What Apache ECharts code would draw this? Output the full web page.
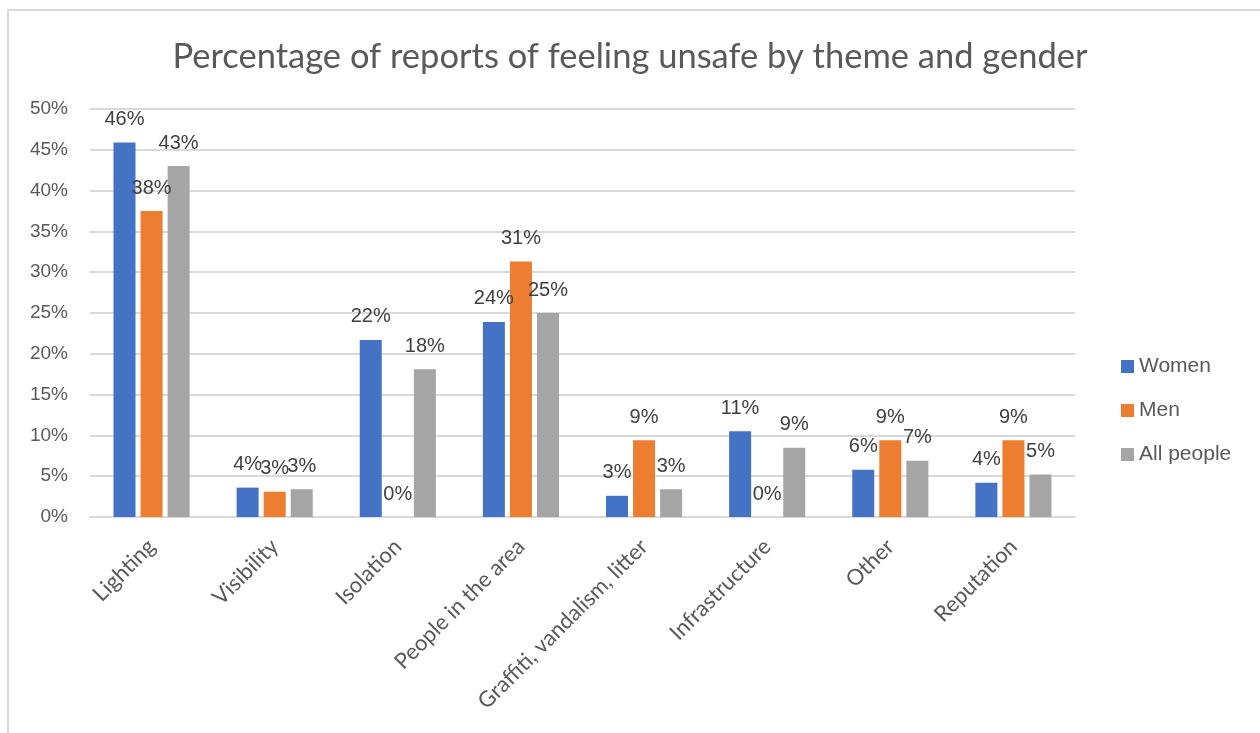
<!DOCTYPE html>
<html>
<head>
<meta charset="utf-8">
<script src="https://cdn.jsdelivr.net/npm/echarts@6/dist/echarts.min.js"></script>
<style>
  html, body { margin: 0; padding: 0; background: #fff; }
  #chart { width: 1260px; height: 733px; }
</style>
</head>
<body>
<div id="chart"></div>
<script>
const categories = ["Lighting", "Visibility", "Isolation", "People in the area",
  "Graffiti, vandalism, litter", "Infrastructure", "Other", "Reputation"];
const women = [45.9, 3.6, 21.7, 23.9, 2.6, 10.5, 5.8, 4.2];
const men = [37.5, 3.1, 0, 31.3, 9.4, 0, 9.4, 9.4];
const allPeople = [43.0, 3.4, 18.1, 25.0, 3.4, 8.5, 6.9, 5.2];

(function unsafeChart() {
  var dom = document.getElementById("chart");
  var myChart = echarts.init(dom, null, { renderer: "canvas" });

  var label = {
    show: true,
    position: "top",
    distance: 13,
    color: "#404040",
    fontFamily: "Liberation Sans",
    fontSize: 20,
    formatter: (p) => Math.round(p.value) + "%",
  };

  function bar(name, data, color) {
    return {
      name,
      type: "bar",
      data,
      barWidth: 22,
      barGap: "23%",
      itemStyle: { color },
      label,
    };
  }

  var option = {
    animation: false,
    graphic: [
      {
        type: "rect",
        shape: { x: 8, y: 10, width: 1270, height: 740 },
        style: { fill: "none", stroke: "#d9d9d9", lineWidth: 2 },
      },
    ],
    title: {
      text: "Percentage of reports of feeling unsafe by theme and gender",
      left: "center",
      top: 34,
      textStyle: {
        fontFamily: "Lato",
        fontWeight: "normal",
        fontSize: 34.5,
        color: "#595959",
      },
    },
    legend: {
      orient: "vertical",
      left: 1116,
      top: 351,
      itemWidth: 13,
      itemHeight: 13,
      itemGap: 23,
      icon: "rect",
      textStyle: { fontFamily: "Liberation Sans", fontSize: 21, color: "#595959" },
      data: ["Women", "Men", "All people"],
    },
    grid: { left: 90, right: 185, top: 109, bottom: 216 },
    xAxis: {
      type: "category",
      data: categories,
      axisLine: { lineStyle: { color: "#d9d9d9", width: 2 } },
      axisTick: { show: false },
      axisLabel: {
        rotate: 45,
        interval: 0,
        margin: 26,
        fontFamily: "Lato",
        fontSize: 22,
        color: "#595959",
      },
    },
    yAxis: {
      type: "value",
      min: 0,
      max: 50,
      interval: 5,
      axisLine: { show: false },
      axisTick: { show: false },
      splitLine: { lineStyle: { color: "#d9d9d9", width: 2 } },
      axisLabel: {
        formatter: "{value}%",
        margin: 22,
        fontFamily: "Liberation Sans",
        fontSize: 19,
        color: "#595959",
      },
    },
    series: [
      bar("Women", women, "#4472c4"),
      bar("Men", men, "#ed7d31"),
      bar("All people", allPeople, "#a5a5a5"),
    ],
  };

  option && myChart.setOption(option);
})();
</script>
</body>
</html>
